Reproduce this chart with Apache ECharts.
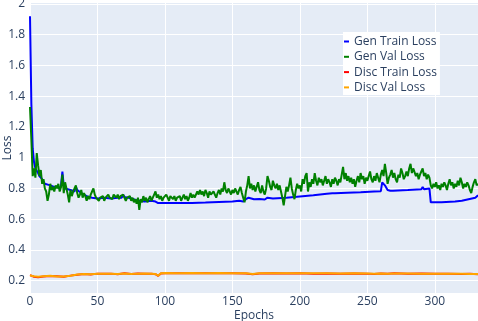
<!DOCTYPE html>
<html><head><meta charset="utf-8">
<script src="https://cdn.jsdelivr.net/npm/echarts@6/dist/echarts.min.js"></script>
<style>html,body{margin:0;padding:0;background:#fff}#c{width:478px;height:321px}</style>
</head><body><div id="c"></div>
<script>
const seriesNames = ['Gen Train Loss','Gen Val Loss','Disc Train Loss','Disc Val Loss'];
const xTicks = [0,50,100,150,200,250,300];
const yTicks = [0.2,0.4,0.6,0.8,1.0,1.2,1.4,1.6,1.8,2.0];

// Gen Val Loss, one value per epoch 0..332
const genVal = [
1.33,1.12,0.88,0.93,0.87,1.03,0.95,0.88,0.92,0.83,
0.86,0.80,0.78,0.72,0.76,0.83,0.79,0.81,0.78,0.82,
0.80,0.83,0.78,0.81,0.89,0.77,0.84,0.80,0.76,0.71,
0.79,0.75,0.78,0.80,0.82,0.77,0.74,0.76,0.79,0.74,
0.77,0.75,0.72,0.75,0.73,0.76,0.78,0.80,0.76,0.74,
0.75,0.72,0.74,0.73,0.75,0.72,0.74,0.73,0.76,0.74,
0.75,0.73,0.76,0.77,0.74,0.76,0.73,0.75,0.74,0.76,
0.75,0.72,0.74,0.73,0.75,0.72,0.74,0.71,0.73,0.70,
0.74,0.66,0.73,0.71,0.75,0.72,0.74,0.71,0.73,0.75,
0.72,0.74,0.76,0.78,0.74,0.76,0.73,0.75,0.72,0.74,
0.73,0.76,0.74,0.72,0.75,0.76,0.73,0.75,0.72,0.74,
0.73,0.75,0.72,0.74,0.76,0.73,0.75,0.72,0.74,0.77,
0.74,0.76,0.74,0.75,0.78,0.76,0.79,0.76,0.78,0.75,
0.79,0.77,0.74,0.78,0.76,0.75,0.78,0.76,0.74,0.77,
0.79,0.76,0.80,0.78,0.84,0.79,0.77,0.80,0.78,0.76,
0.79,0.77,0.80,0.78,0.76,0.79,0.81,0.77,0.74,0.71,
0.78,0.82,0.88,0.80,0.83,0.79,0.82,0.78,0.81,0.84,
0.79,0.77,0.82,0.78,0.76,0.80,0.88,0.85,0.81,0.79,
0.85,0.82,0.80,0.83,0.79,0.82,0.78,0.74,0.69,0.75,
0.81,0.78,0.82,0.87,0.80,0.76,0.73,0.79,0.83,0.80,
0.82,0.78,0.86,0.83,0.88,0.90,0.78,0.84,0.81,0.86,
0.83,0.90,0.85,0.82,0.87,0.84,0.86,0.82,0.85,0.88,
0.83,0.86,0.84,0.81,0.86,0.83,0.87,0.85,0.82,0.86,
0.84,0.89,0.94,0.86,0.90,0.85,0.88,0.84,0.87,0.83,
0.86,0.81,0.85,0.88,0.84,0.90,0.86,0.88,0.83,0.87,
0.85,0.88,0.91,0.86,0.84,0.88,0.85,0.90,0.87,0.84,
0.89,0.92,0.88,0.96,0.90,0.83,0.87,0.89,0.92,0.87,
0.90,0.86,0.84,0.89,0.87,0.93,0.90,0.86,0.88,0.91,
0.88,0.93,0.96,0.90,0.93,0.92,0.88,0.90,0.86,0.89,
0.91,0.93,0.88,0.90,0.86,0.89,0.87,0.82,0.80,0.83,
0.81,0.84,0.80,0.82,0.79,0.83,0.81,0.84,0.82,0.79,
0.83,0.86,0.82,0.84,0.80,0.83,0.81,0.85,0.82,0.87,
0.84,0.80,0.83,0.81,0.84,0.82,0.79,0.77,0.81,0.84,
0.86,0.82,0.83
];

// Gen Train Loss, read at key epochs
const genTrainEpochs = [0,1,2,3,4,5,6,7,8,9,10,11,12,15,18,20,22,23,24,25,26,30,33,34,35,38,42,46,50,55,60,65,68,69,70,75,80,85,90,93,95,100,110,120,130,140,150,155,158,160,162,164,166,170,174,176,180,190,200,210,220,224,225,226,235,245,255,260,261,263,265,267,268,269,280,290,291,292,296,297,305,315,320,325,330,332];
const genTrain = [1.92,1.35,1.06,0.97,0.93,0.92,0.90,0.88,0.87,0.86,0.85,0.83,0.82,0.82,0.81,0.81,0.80,0.82,0.91,0.82,0.80,0.79,0.78,0.81,0.79,0.77,0.75,0.74,0.735,0.74,0.735,0.74,0.74,0.76,0.745,0.735,0.72,0.715,0.72,0.715,0.705,0.705,0.705,0.705,0.708,0.712,0.715,0.72,0.715,0.73,0.74,0.735,0.73,0.732,0.728,0.74,0.735,0.74,0.748,0.755,0.765,0.768,0.778,0.768,0.772,0.775,0.78,0.782,0.84,0.82,0.79,0.785,0.795,0.785,0.79,0.795,0.81,0.795,0.80,0.71,0.71,0.715,0.72,0.73,0.74,0.755];

// Disc losses, read at key epochs
const discEpochs = [0,3,6,10,15,20,25,30,35,40,45,50,55,60,65,70,75,80,85,90,93,95,97,100,110,120,130,140,150,160,165,170,180,190,200,210,220,230,240,250,255,260,265,270,280,290,300,310,320,326,332];
const discTrain = [0.236,0.226,0.222,0.227,0.231,0.229,0.226,0.233,0.239,0.243,0.241,0.246,0.245,0.246,0.242,0.248,0.243,0.247,0.246,0.246,0.242,0.232,0.247,0.249,0.248,0.249,0.248,0.249,0.248,0.247,0.242,0.247,0.248,0.247,0.248,0.246,0.247,0.246,0.247,0.246,0.244,0.247,0.245,0.248,0.246,0.247,0.245,0.246,0.244,0.245,0.242];
const discVal   = [0.234,0.229,0.225,0.229,0.232,0.228,0.228,0.232,0.240,0.243,0.242,0.245,0.246,0.245,0.243,0.247,0.244,0.246,0.247,0.245,0.243,0.233,0.248,0.250,0.249,0.250,0.249,0.250,0.249,0.248,0.243,0.248,0.249,0.248,0.249,0.248,0.248,0.247,0.248,0.247,0.246,0.247,0.246,0.247,0.247,0.246,0.246,0.246,0.245,0.244,0.243];

const colors = ['#0000ff','#008000','#ff0000','#ffa500'];
const pair = (xs, ys) => xs.map((x, i) => [x, ys[i]]);
const genValData = genVal.map((v, i) => [i, v]);

const font = '"Open Sans", "Noto Sans", sans-serif';
const txt = '#2a3f5f';
const chart = echarts.init(document.getElementById('c'), null, {renderer: 'canvas'});
const mk = (name, data, color) => ({
  name, type: 'line', data, showSymbol: false, symbol: 'none',
  lineStyle: {color, width: 2}, itemStyle: {color}, animation: false
});
chart.setOption({
  animation: false,
  backgroundColor: '#ffffff',
  textStyle: {fontFamily: font},
  grid: {left: 30, right: 0, top: 3, bottom: 28, show: true, backgroundColor: '#E5ECF6', borderWidth: 0,
    containLabel: false, outerBoundsMode: 'none'},
  legend: {
    orient: 'vertical', left: 343, top: 32,
    data: seriesNames,
    icon: 'rect', itemWidth: 5, itemHeight: 2, itemGap: 0.3,
    backgroundColor: '#ffffff', padding: [2, 3, 0, 1],
    textStyle: {color: txt, fontSize: 12, fontFamily: font, lineHeight: 15}
  },
  xAxis: {
    type: 'value', min: 0, max: 332, interval: 50,
    name: 'Epochs', nameLocation: 'middle', nameGap: 17, nameMoveOverlap: false,
    nameTextStyle: {color: txt, fontSize: 12, fontFamily: font},
    axisLine: {show: false}, axisTick: {show: false},
    axisLabel: {color: txt, fontSize: 12, fontFamily: font, margin: 3, showMaxLabel: false},
    splitLine: {show: true, lineStyle: {color: '#ffffff', width: 1}}
  },
  yAxis: {
    type: 'value', min: 0.12, max: 2.006,
    name: 'Loss', nameLocation: 'middle', nameGap: 16, nameMoveOverlap: false,
    nameTextStyle: {color: txt, fontSize: 12, fontFamily: font},
    axisLine: {show: false},
    axisTick: {show: false, customValues: yTicks},
    axisLabel: {color: txt, fontSize: 12, fontFamily: font, margin: 5, customValues: yTicks,
      formatter: v => String(+(+v).toFixed(1))},
    splitLine: {show: true, customValues: yTicks, lineStyle: {color: '#ffffff', width: 1}}
  },
  series: [
    mk(seriesNames[0], pair(genTrainEpochs, genTrain), colors[0]),
    mk(seriesNames[1], genValData, colors[1]),
    mk(seriesNames[2], pair(discEpochs, discTrain), colors[2]),
    mk(seriesNames[3], pair(discEpochs, discVal), colors[3])
  ]
});
</script></body></html>
